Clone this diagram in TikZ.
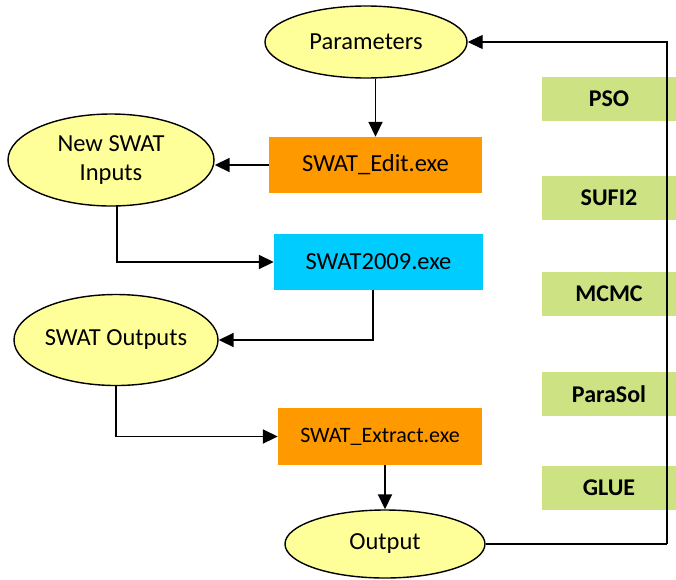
\documentclass[tikz,border=0pt]{standalone}
\usepackage{fontspec}
\setmainfont{Carlito}
\usepackage{xcolor}
\definecolor{EllipseColor}{RGB}{255,255,153}
\definecolor{ExeColor}{RGB}{255,153,0}
\definecolor{ModelColor}{RGB}{0,204,255}
\definecolor{AlgoColor}{RGB}{205,227,131}
\usetikzlibrary{positioning, shapes.geometric, arrows.meta, calc}

\begin{document}
\begin{tikzpicture}[
    x=1pt, y=-1pt,
    every node/.style={font=\fontsize{24.5}{29}\selectfont},
    blob/.style={ellipse, draw, line width=1.4pt, fill=EllipseColor, inner sep=0pt, align=center},
    exe/.style={rectangle, inner sep=0pt, align=center},
    edit/.style={exe, fill=ExeColor},
    model/.style={exe, fill=ModelColor},
    algo/.style={exe, fill=AlgoColor, minimum width=134pt, minimum height=44pt, font=\fontsize{24}{29}\selectfont\bfseries},
    arrow/.style={-{Triangle[length=15pt, width=14pt]}, line width=1.8pt},
    link/.style={line width=1.3pt},
]
\useasboundingbox (0,0) rectangle (676,579);

% Ellipses
\node[blob, minimum width=202pt, minimum height=72pt] (params) at (366,42) {Parameters};
\node[blob, minimum width=206pt, minimum height=92pt] (inputs) at (111,160) {\raisebox{-4pt}{\begin{tabular}{@{}c@{}}New SWAT\\Inputs\end{tabular}}};
\node[blob, minimum width=204pt, minimum height=91pt] (outputs) at (116,340) {SWAT Outputs};
\node[blob, minimum width=200pt, minimum height=68pt] (result) at (385,544) {Output};

% Executables
\node[edit, minimum width=213pt, minimum height=56pt] (editexe) at (375.5,165) {SWAT\_Edit.exe};
\node[model, minimum width=209pt, minimum height=56pt] (swatexe) at (378.5,262) {SWAT2009.exe};
\node[edit, minimum width=204pt, minimum height=57pt, font=\fontsize{22}{26}\selectfont] (extractexe) at (380,436.5) {SWAT\_Extract.exe};

% Algorithms
\foreach \alg/\txt/\y in {pso/PSO/99, sufi/SUFI2/198, mcmc/MCMC/294, parasol/ParaSol/394, glue/GLUE/488} {
    \node[algo] (\alg) at (609,\y) {\txt};
}

% Loop back
\coordinate (corner) at (667,544);
\draw[link] (result.east) -- (corner);
\draw[arrow, link] (corner) |- (params.east);

% Flow
\draw[arrow] (params.south -| editexe.north) -- (editexe.north);
\draw[arrow] (editexe.west) -- (inputs.east |- editexe.west);
\draw[arrow] (117,206) |- (swatexe.west);
\draw[arrow] (373,290) |- (outputs.east);
\draw[arrow] (outputs.south) |- (extractexe.west);
\draw[arrow] (extractexe.south -| result.north) -- (result.north);

\end{tikzpicture}
\end{document}
